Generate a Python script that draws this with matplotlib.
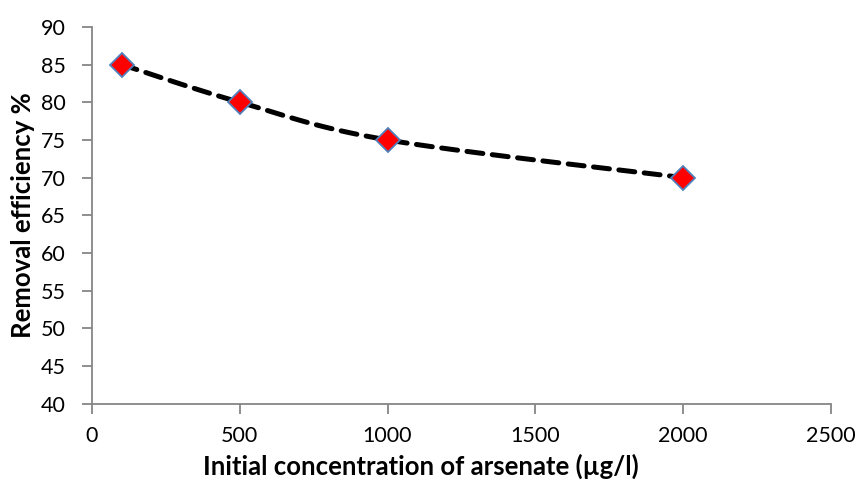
import numpy as np
import matplotlib.pyplot as plt

plt.rcParams['font.family'] = ['Lato', 'DejaVu Sans']

conc = [100, 500, 1000, 2000]
efficiency = [85, 80, 75, 70]
x_ticks = [0, 500, 1000, 1500, 2000, 2500]
y_ticks = [40, 45, 50, 55, 60, 65, 70, 75, 80, 85, 90]


def smooth_line(xs, ys, n=40):
    # Catmull-Rom style smoothing like a spreadsheet "smoothed line"
    xs = np.asarray(xs, float)
    ys = np.asarray(ys, float)
    px = np.concatenate([[xs[0]], xs, [xs[-1]]])
    py = np.concatenate([[ys[0]], ys, [ys[-1]]])
    out_x, out_y = [], []
    for i in range(1, len(px) - 2):
        t = np.linspace(0, 1, n)
        for p, out in ((px, out_x), (py, out_y)):
            p0, p1, p2, p3 = p[i - 1], p[i], p[i + 1], p[i + 2]
            out.extend(0.5 * ((2 * p1) + (-p0 + p2) * t
                              + (2 * p0 - 5 * p1 + 4 * p2 - p3) * t ** 2
                              + (-p0 + 3 * p1 - 3 * p2 + p3) * t ** 3))
    return out_x, out_y


fig = plt.figure(figsize=(8.6, 4.79), dpi=100)
ax = fig.add_axes([0.107, 0.157, 0.859, 0.787])

sx, sy = smooth_line(conc, efficiency)
ax.plot(sx, sy, color='black', linewidth=3.6, linestyle=(0, (3.2, 1.9)),
        dash_capstyle='round', zorder=2)
ax.plot(conc, efficiency, linestyle='none', marker='D', markersize=12,
        markerfacecolor='#ff0000', markeredgecolor='#4f81bd',
        markeredgewidth=1.3, zorder=3)

ax.set_xlim(0, 2500)
ax.set_ylim(40, 90)
ax.set_xticks(x_ticks)
ax.set_yticks(y_ticks)
ax.tick_params(labelsize=15.5, color='#868686', length=7, width=1.3)
ax.tick_params(axis='x', pad=9)
ax.tick_params(axis='y', pad=12)

for side in ('top', 'right'):
    ax.spines[side].set_visible(False)
for side in ('left', 'bottom'):
    ax.spines[side].set_color('#868686')
    ax.spines[side].set_linewidth(1.3)

ax.set_xlabel('Initial concentration of arsenate (µg/l)', fontsize=18.5,
              fontweight='bold', va='center')
ax.set_ylabel('Removal efficiency %', fontsize=18.5, fontweight='bold',
              va='center')
ax.xaxis.set_label_coords(0.445, -0.165)
ax.yaxis.set_label_coords(-0.093, 0.5)

fig.savefig('out.png', dpi=100)
